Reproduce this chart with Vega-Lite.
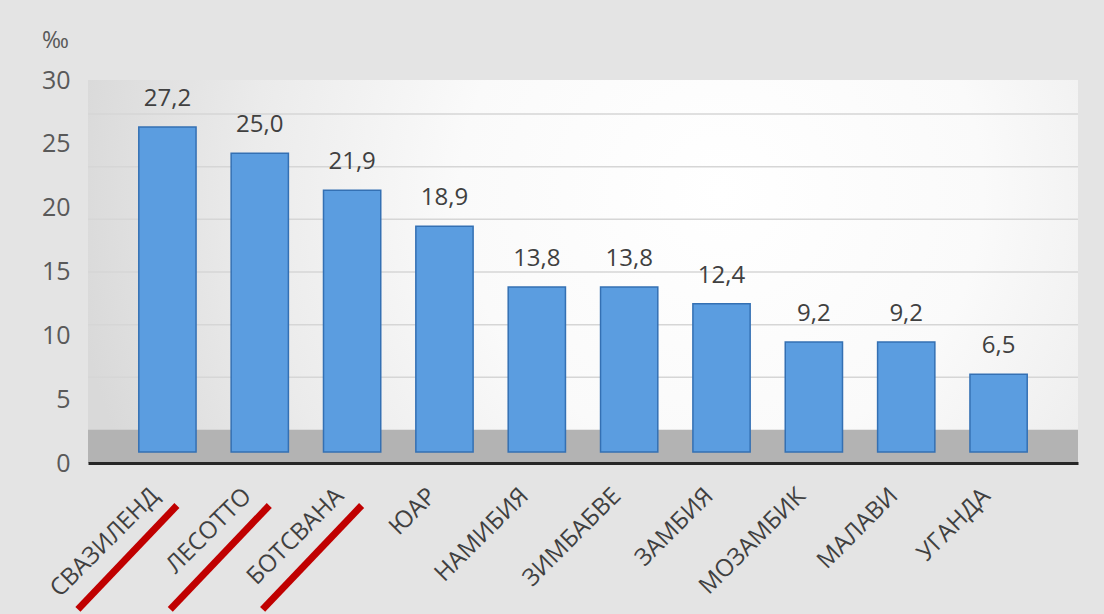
{
  "$schema": "https://vega.github.io/schema/vega-lite/v6.json",
  "width": 990,
  "height": 383,
  "autosize": "none",
  "padding": {"left": 88, "top": 80, "right": 26, "bottom": 151},
  "background": "#e4e4e4",
  "config": {
    "font": "Open Sans",
    "view": {
      "stroke": null,
      "fill": {
        "gradient": "radial",
        "x1": 0.64, "y1": 0.42, "r1": 0,
        "x2": 0.64, "y2": 0.42, "r2": 0.66,
        "stops": [
          {"offset": 0, "color": "#ffffff"},
          {"offset": 0.4, "color": "#fafafa"},
          {"offset": 0.72, "color": "#ebebeb"},
          {"offset": 1, "color": "#d9d9d9"}
        ]
      }
    },
    "locale": {"number": {"decimal": ",", "thousands": " ", "grouping": [3], "currency": ["", ""]}}
  },
  "data": {
    "values": [
      {"country": "СВАЗИЛЕНД", "value": 27.2, "marked": true},
      {"country": "ЛЕСОТТО", "value": 25.0, "marked": true},
      {"country": "БОТСВАНА", "value": 21.9, "marked": true},
      {"country": "ЮАР", "value": 18.9, "marked": false},
      {"country": "НАМИБИЯ", "value": 13.8, "marked": false},
      {"country": "ЗИМБАБВЕ", "value": 13.8, "marked": false},
      {"country": "ЗАМБИЯ", "value": 12.4, "marked": false},
      {"country": "МОЗАМБИК", "value": 9.2, "marked": false},
      {"country": "МАЛАВИ", "value": 9.2, "marked": false},
      {"country": "УГАНДА", "value": 6.5, "marked": false}
    ]
  },
  "layer": [
    {
      "data": {"values": [{}]},
      "mark": {"type": "rect", "fill": "#b3b3b3"},
      "encoding": {
        "y": {
          "datum": 0,
          "type": "quantitative",
          "scale": {"domain": [0, 30], "nice": false, "zero": false},
          "axis": {
            "orient": "left",
            "values": [0, 5, 10, 15, 20, 25, 30],
            "domain": false,
            "ticks": false,
            "tickSize": 0,
            "grid": false,
            "labelPadding": 18,
            "labelFontSize": 25,
            "labelColor": "#595959",
            "labelBaseline": "middle",
            "title": "‰",
            "titleAngle": 0,
            "titleX": -33,
            "titleY": -40,
            "titleAlign": "center",
            "titleBaseline": "middle",
            "titleFontSize": 23,
            "titleFontWeight": "normal",
            "titleColor": "#595959"
          }
        },
        "y2": {"datum": 2.6}
      }
    },
    {
      "data": {"values": [{"g": 5}, {"g": 10}, {"g": 15}, {"g": 20}, {"g": 25}, {"g": 30}]},
      "mark": {"type": "rule", "color": "#d6d6d6", "strokeWidth": 1.5},
      "encoding": {
        "y": {
          "field": "g",
          "type": "quantitative",
          "scale": {"domain": [-3.133, 33.23], "nice": false, "zero": false},
          "axis": null
        }
      }
    },
    {
      "encoding": {
        "x": {
          "field": "country",
          "type": "nominal",
          "sort": null,
          "scale": {"paddingInner": 0.38, "paddingOuter": 0.55},
          "axis": {
            "title": null,
            "zindex": 1,
            "domainColor": "#262626",
            "domainWidth": 3,
            "ticks": false,
            "tickSize": 0,
            "labelAngle": -45,
            "labelAlign": "right",
            "labelBaseline": "middle",
            "labelPadding": 29,
            "labelOffset": -12,
            "labelFontSize": 24,
            "labelColor": "#404040",
            "labelOverlap": false,
            "labelLimit": 0
          }
        },
        "y": {
          "field": "value",
          "type": "quantitative",
          "scale": {"domain": [-0.9207, 31.134], "nice": false, "zero": false},
          "axis": null
        }
      },
      "layer": [
        {
          "mark": {"type": "bar", "fill": "#5b9de0", "stroke": "#3470b3", "strokeWidth": 1.5}
        },
        {
          "mark": {"type": "text", "dy": -28, "baseline": "middle", "fontSize": 24, "color": "#404040"},
          "encoding": {"text": {"field": "value", "type": "quantitative", "format": ".1f"}}
        }
      ]
    },
    {
      "transform": [{"filter": "datum.marked"}],
      "mark": {
        "type": "point",
        "shape": "M-1,1.05L1,-1.05",
        "filled": false,
        "stroke": "#c00000",
        "strokeWidth": 7,
        "size": 9801,
        "opacity": 1,
        "xOffset": -40
      },
      "encoding": {
        "x": {"field": "country", "type": "nominal", "sort": null},
        "y": {
          "datum": -7.4,
          "type": "quantitative",
          "scale": {"domain": [0, 30], "nice": false, "zero": false},
          "axis": null
        }
      }
    }
  ],
  "resolve": {"scale": {"y": "independent"}}
}
